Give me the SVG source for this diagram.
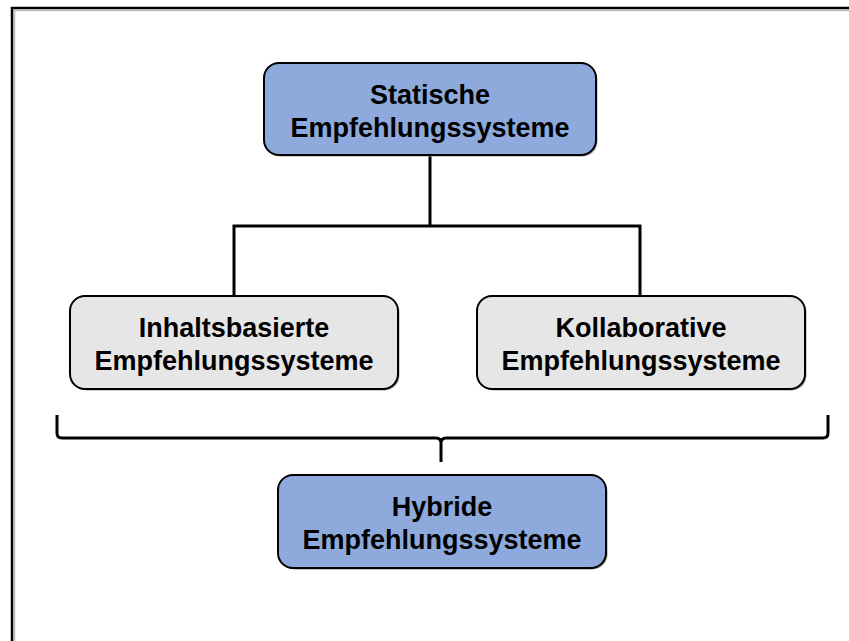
<svg xmlns="http://www.w3.org/2000/svg" width="849" height="641" viewBox="0 0 849 641">
  <style>
    .box { stroke: #000; stroke-width: 2; }
    .blue { fill: #8eaadc; }
    .grey { fill: #e6e6e6; }
    .shadow { fill: #9a9a9a; }
    .label { font-family: "Liberation Sans", Arial, sans-serif; font-weight: bold; font-size: 27px; fill: #000; text-anchor: middle; }
    .wire { fill: none; stroke: #000; stroke-width: 3; }
  </style>
  <rect x="0" y="0" width="849" height="641" fill="#fff"/>
  <!-- page frame (continues past right and bottom edges) -->
  <path d="M14.5 660 V10.5 H870" fill="none" stroke="#bbb" stroke-width="1.5"/>
  <path d="M12 660 V8 H870" fill="none" stroke="#000" stroke-width="2.5"/>

  <g id="connectors">
    <path class="wire" d="M430 155 V226 M234 226 H640 M234 224.5 V297 M640 224.5 V297"/>
    <!-- curly brace grouping both middle nodes -->
    <path class="wire" d="M57 415 V433 Q57 438 62 438 H436 Q441 438 441 443 V462 M441 443 Q441 438 446 438 H823 Q828 438 828 433 V415"/>
  </g>

  <g id="node-statisch">
    <rect class="shadow" x="265.5" y="64.5" width="332" height="92" rx="15"/>
    <rect class="box blue" x="264" y="63" width="332" height="92" rx="15"/>
    <text class="label" x="430" y="104">Statische</text>
    <text class="label" x="430" y="137">Empfehlungssysteme</text>
  </g>

  <g id="node-inhalt">
    <rect class="shadow" x="71.5" y="297.5" width="328" height="93" rx="15"/>
    <rect class="box grey" x="70" y="296" width="328" height="93" rx="15"/>
    <text class="label" x="234" y="337">Inhaltsbasierte</text>
    <text class="label" x="234" y="370">Empfehlungssysteme</text>
  </g>

  <g id="node-kollaborativ">
    <rect class="shadow" x="478.5" y="297.5" width="328" height="93" rx="15"/>
    <rect class="box grey" x="477" y="296" width="328" height="93" rx="15"/>
    <text class="label" x="641" y="337">Kollaborative</text>
    <text class="label" x="641" y="370">Empfehlungssysteme</text>
  </g>

  <g id="node-hybrid">
    <rect class="shadow" x="279.5" y="476.5" width="328" height="93" rx="15"/>
    <rect class="box blue" x="278" y="475" width="328" height="93" rx="15"/>
    <text class="label" x="442" y="516">Hybride</text>
    <text class="label" x="442" y="549">Empfehlungssysteme</text>
  </g>
</svg>
